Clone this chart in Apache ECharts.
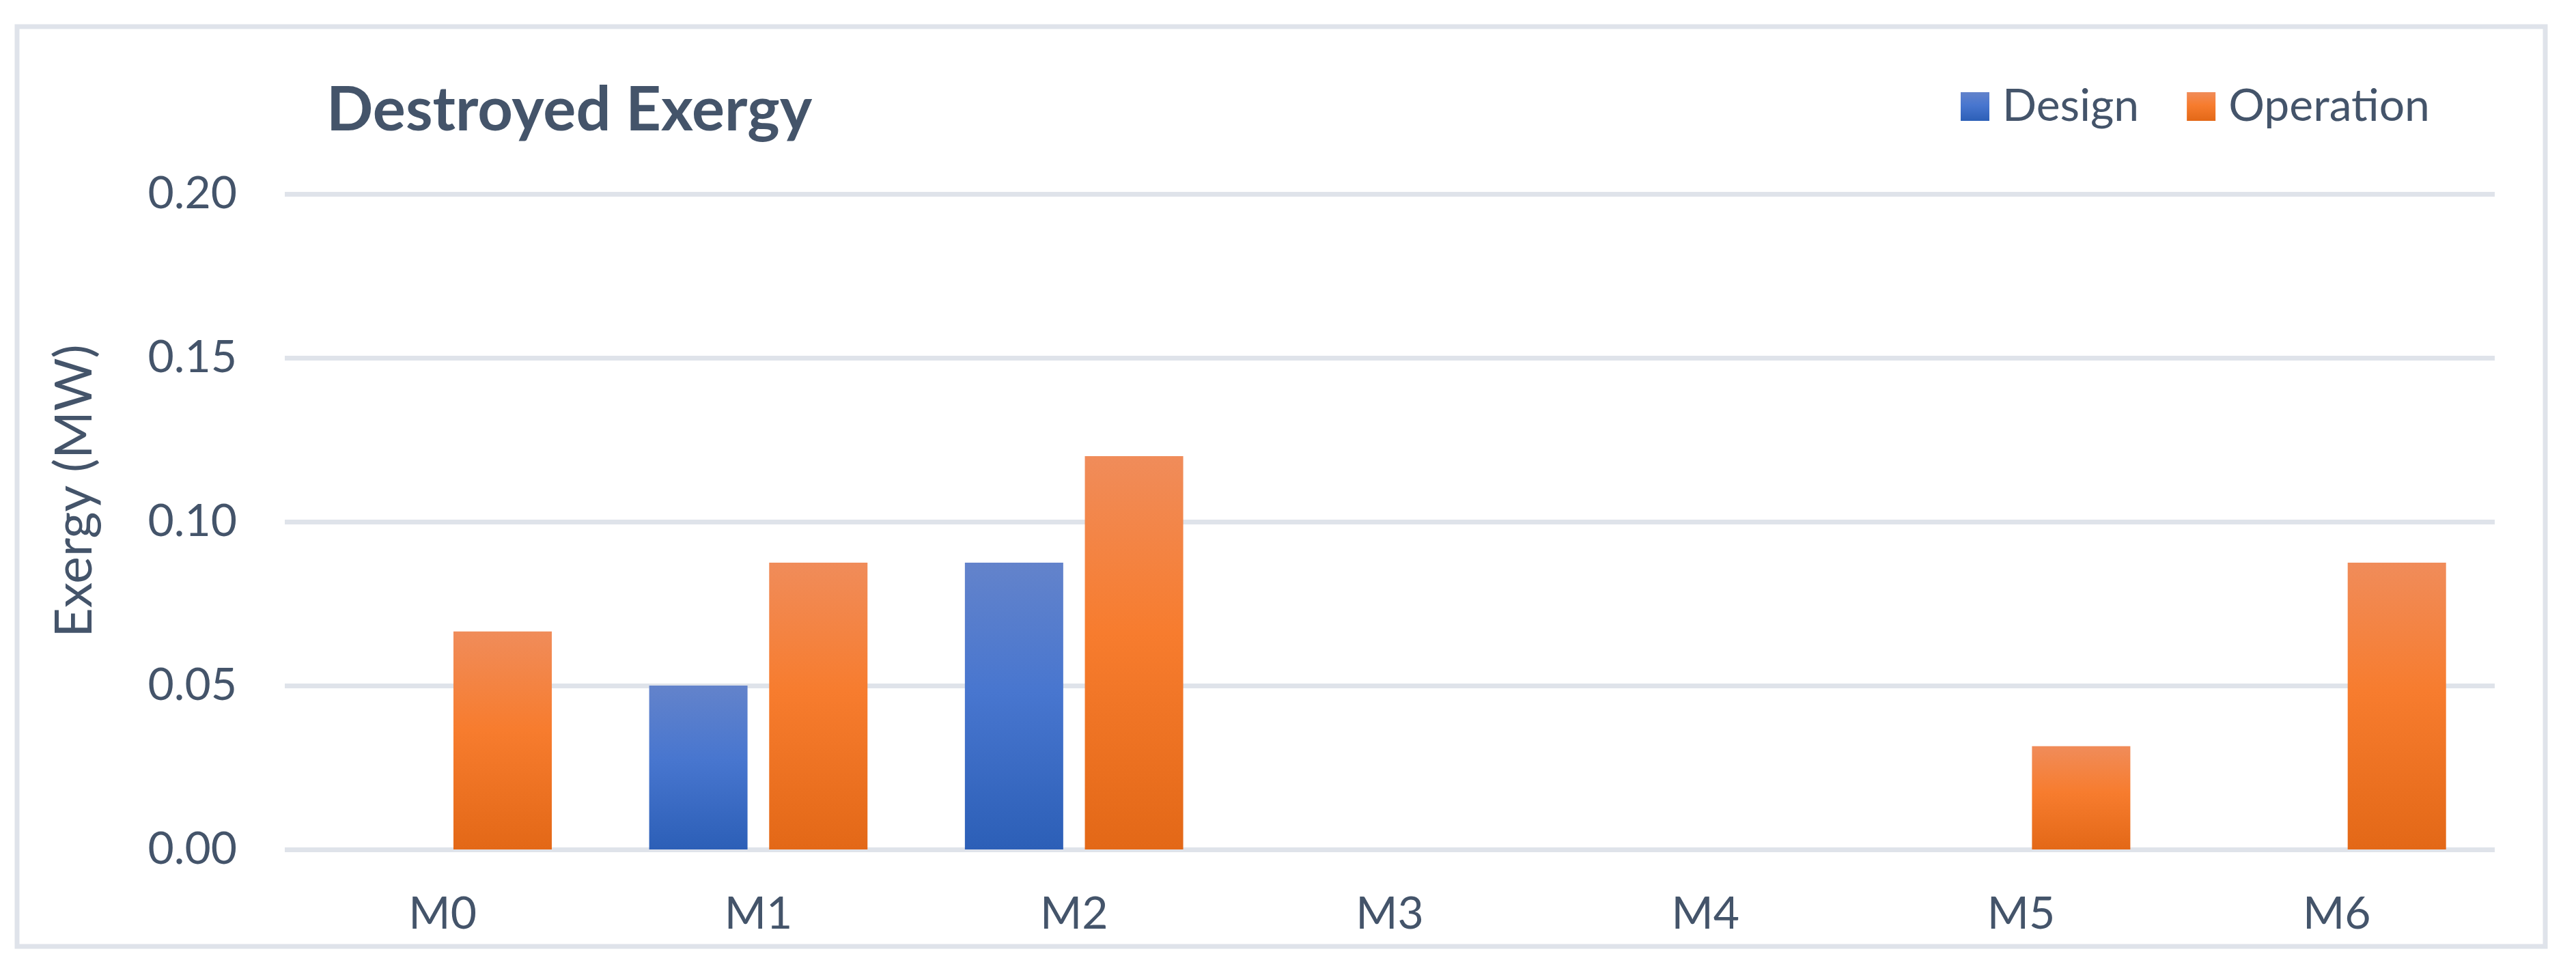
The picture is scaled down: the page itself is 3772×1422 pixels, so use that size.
<!DOCTYPE html>
<html>
<head>
<meta charset="utf-8">
<script src="https://cdn.jsdelivr.net/npm/echarts@6/dist/echarts.min.js"></script>
<style>
html,body{margin:0;padding:0;background:#fff;}
#chart{width:3772px;height:1422px;}
</style>
</head>
<body>
<div id="chart"></div>
<script>
const categories = ['M0', 'M1', 'M2', 'M3', 'M4', 'M5', 'M6'];
const designValues = [0, 0.05, 0.0875, 0, 0, 0, 0];
const operationValues = [0.0665, 0.0875, 0.12, 0, 0, 0.0315, 0.0875];
const yTicks = { min: 0, max: 0.2, interval: 0.05 };
const seriesNames = ['Design', 'Operation'];
const titleText = 'Destroyed Exergy';
const yAxisTitle = 'Exergy (MW)';

const textColor = '#44546A';
const gridColor = '#DFE3EA';
const font = 'Lato';

function grad(top, mid, bottom) {
  return {
    type: 'linear', x: 0, y: 0, x2: 0, y2: 1,
    colorStops: [
      { offset: 0, color: top },
      { offset: 0.45, color: mid },
      { offset: 1, color: bottom }
    ]
  };
}
const designColor = grad('#6383CB', '#4876CF', '#2C5FB7');
const operationColor = grad('#F08C5A', '#F77C2E', '#E36817');

const chart = echarts.init(document.getElementById('chart'), null, { renderer: 'canvas' });
chart.setOption({
  backgroundColor: '#ffffff',
  animation: false,
  title: {
    text: titleText,
    left: 473,
    top: 112,
    textStyle: { color: textColor, fontFamily: font, fontWeight: 'bold', fontSize: 90, lineHeight: 90 }
  },
  legend: {
    data: seriesNames,
    left: 2866,
    top: 118,
    itemWidth: 42,
    itemHeight: 42,
    itemGap: 70,
    icon: 'rect',
    textStyle: { color: textColor, fontFamily: font, fontSize: 66, lineHeight: 66, padding: [0, 0, 0, 14] }
  },
  graphic: [{
    type: 'rect',
    shape: { x: 25, y: 39, width: 3702, height: 1347 },
    style: { fill: 'none', stroke: gridColor, lineWidth: 7 },
    silent: true
  }],
  grid: { left: 417, right: 119, top: 284, bottom: 178, containLabel: false, outerBoundsMode: 'none' },
  xAxis: {
    type: 'category',
    data: categories,
    axisLine: { show: false },
    axisTick: { show: false },
    axisLabel: { color: textColor, fontFamily: font, fontSize: 66, lineHeight: 66, margin: 62 }
  },
  yAxis: {
    type: 'value',
    min: yTicks.min,
    max: yTicks.max,
    interval: yTicks.interval,
    name: yAxisTitle,
    nameLocation: 'middle',
    nameGap: 270,
    nameRotate: 90,
    nameTextStyle: { color: textColor, fontFamily: font, fontSize: 75, lineHeight: 75, padding: [0, 0, 0, 90] },
    axisLine: { show: false },
    axisTick: { show: false },
    splitLine: { lineStyle: { color: gridColor, width: 7 } },
    axisLabel: {
      color: textColor, fontFamily: font, fontSize: 66, margin: 70,
      formatter: v => v.toFixed(2)
    }
  },
  series: [
    {
      name: seriesNames[0], type: 'bar', data: designValues,
      barWidth: 144, barGap: '22%',
      itemStyle: { color: designColor }
    },
    {
      name: seriesNames[1], type: 'bar', data: operationValues,
      barWidth: 144, barGap: '22%',
      itemStyle: { color: operationColor }
    }
  ]
});
</script>
</body>
</html>
